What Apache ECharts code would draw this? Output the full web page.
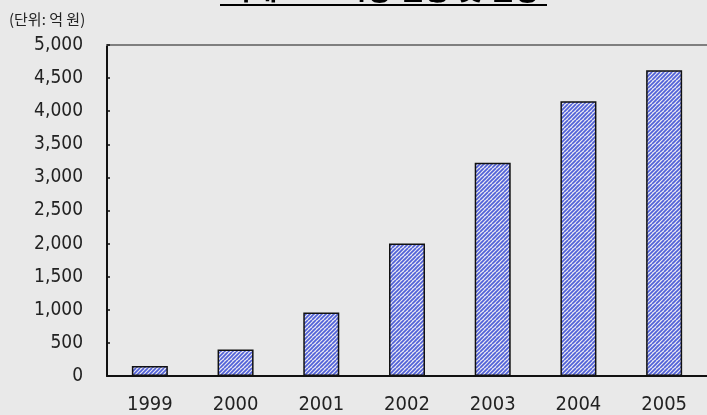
<!DOCTYPE html>
<html><head><meta charset="utf-8">
<script src="https://cdn.jsdelivr.net/npm/echarts@6/dist/echarts.min.js"></script>
<style>html,body{margin:0;padding:0;background:#e9e9e9}#c{width:707px;height:415px}</style>
</head><body><div id="c"></div>
<script>
const title = '국내 VPN시장 현황 및 전망';
const unitLabel = '(단위: 억 원)';
const years = ['1999','2000','2001','2002','2003','2004','2005'];
const market = [150, 400, 960, 2000, 3220, 4150, 4620];

const numFont = '"Liberation Sans Narrow","DejaVu Sans Condensed",sans-serif';
const krFont = '"Noto Sans CJK KR",sans-serif';

function hatch(){
  const c = document.createElement('canvas');
  c.width = 8; c.height = 8;
  const g = c.getContext('2d');
  g.fillStyle = '#ecebf2'; g.fillRect(0,0,8,8);
  g.strokeStyle = '#5060d8'; g.lineWidth = 1.7;
  for (let x = -8; x <= 16; x += 4){
    g.beginPath(); g.moveTo(x, 8); g.lineTo(x + 8, 0); g.stroke();
  }
  return c;
}

const chart = echarts.init(document.getElementById('c'), null, {renderer:'canvas'});
chart.setOption({
  backgroundColor: '#e9e9e9',
  animation: false,
  grid: {left: 107, right: -9, top: 45, bottom: 37},
  xAxis: [{
    type: 'category', data: years,
    axisLine: {lineStyle: {color: '#111', width: 2}},
    axisTick: {inside: true, length: 4, lineStyle: {color: '#111', width: 2}},
    axisLabel: {color: '#222', fontFamily: numFont, fontSize: 20, margin: 19}
  },{
    type: 'category', data: years, position: 'top',
    axisLine: {lineStyle: {color: '#7f7f7f', width: 2}},
    axisTick: {show: false}, axisLabel: {show: false}
  }],
  yAxis: {
    type: 'value', min: 0, max: 5000, interval: 500,
    splitLine: {show: false},
    axisLine: {show: true, lineStyle: {color: '#111', width: 2}},
    axisTick: {show: true, inside: true, length: 3, lineStyle: {color: '#111', width: 1.5}},
    axisLabel: {color: '#222', fontFamily: numFont, fontSize: 19, margin: 24,
      formatter: v => v.toLocaleString('en-US')}
  },
  series: [{
    type: 'bar', data: market, barWidth: 36,
    itemStyle: {color: {image: hatch(), repeat: 'repeat'}, borderColor: '#111', borderWidth: 1.5}
  }],
  graphic: [
    {type: 'text', x: 383, y: -25,
     style: {text: title, font: 'bold 28px ' + krFont, fill: '#000', align: 'center'}},
    {type: 'rect', shape: {x: 220, y: 4, width: 327, height: 2}, style: {fill: '#000'}},
    {type: 'text', x: 9, y: 12,
     style: {text: unitLabel, font: '15px ' + krFont, fill: '#222'}}
  ]
});
</script></body></html>
